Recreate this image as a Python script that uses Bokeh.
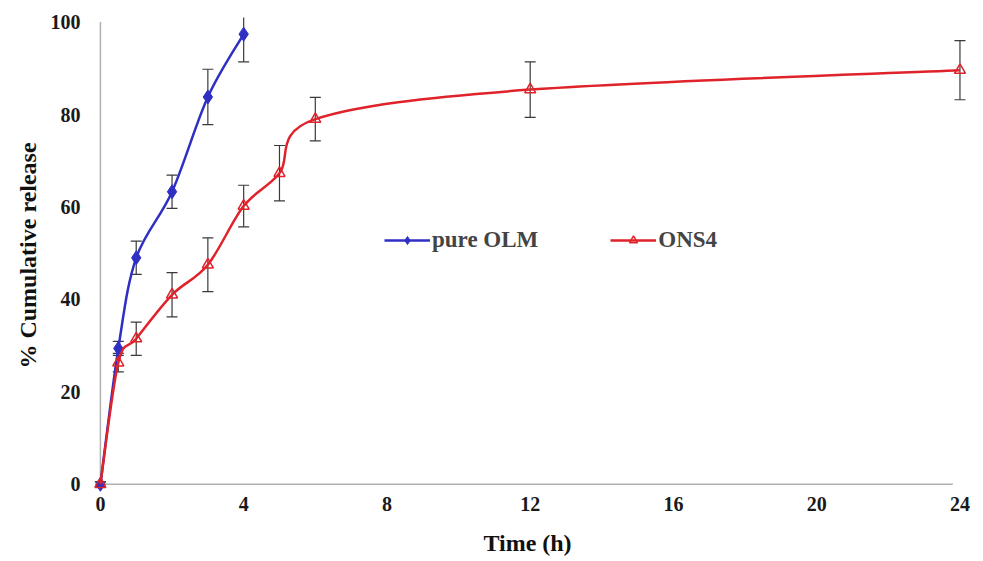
import numpy as np
from bokeh.plotting import figure
from bokeh.models import ColumnDataSource, Whisker, TeeHead, FixedTicker, Legend, LegendItem
from bokeh.embed import file_html
from bokeh.resources import INLINE

# ---- data ----
olm_t = [0, 0.5, 1, 2, 3, 4]
olm_y = [0, 29.4, 49.0, 63.3, 83.8, 97.4]
olm_sd = [0.5, 1.5, 3.6, 3.6, 6.0, 6.0]

ons_t = [0, 0.5, 1, 2, 3, 4, 5, 6, 12, 24]
ons_y = [0, 26.3, 31.5, 41.0, 47.5, 60.2, 67.3, 79.0, 85.4, 89.6]
ons_sd = [0.5, 2.0, 3.6, 4.8, 5.8, 4.5, 6.0, 4.7, 6.0, 6.4]

x_ticks = [0, 4, 8, 12, 16, 20, 24]
y_ticks = [0, 20, 40, 60, 80, 100]

FONT = "Liberation Serif"


def smooth(xs, ys):
    """Excel-like smoothed line: Catmull-Rom segments as cubic Bezier curves."""
    P = np.column_stack([xs, ys]).astype(float)
    n = len(P)
    x0, y0, x1, y1, cx0, cy0, cx1, cy1 = ([] for _ in range(8))
    for i in range(n - 1):
        p0 = P[i - 1] if i > 0 else P[i]
        p1 = P[i]
        p2 = P[i + 1]
        p3 = P[i + 2] if i + 2 < n else P[i + 1]
        c1 = p1 + (p2 - p0) / 6.0
        c2 = p2 - (p3 - p1) / 6.0
        x0.append(p1[0]); y0.append(p1[1]); x1.append(p2[0]); y1.append(p2[1])
        cx0.append(c1[0]); cy0.append(c1[1]); cx1.append(c2[0]); cy1.append(c2[1])
    return dict(x0=x0, y0=y0, x1=x1, y1=y1, cx0=cx0, cy0=cy0, cx1=cx1, cy1=cy1)


p = figure(width=980, height=558, output_backend="svg", toolbar_location=None,
           x_range=(-0.5, 24.35), y_range=(-2, 101),
           min_border_left=82, min_border_right=8, min_border_top=17, min_border_bottom=64)
p.outline_line_color = None
p.grid.visible = False
p.background_fill_color = "white"

# axis lines at 0
p.segment(x0=[0], y0=[0], x1=[23.8], y1=[0], line_color="#b0b0b0", line_width=1.5)
p.segment(x0=[0], y0=[0], x1=[0], y1=[100], line_color="#b0b0b0", line_width=1.5)

BLUE = "#2f2fc4"
RED = "#e0222a"
ERR = "#3a3a3a"

# error bars
for t, y, sd in ((olm_t, olm_y, olm_sd), (ons_t, ons_y, ons_sd)):
    src = ColumnDataSource(dict(x=t, upper=[a + b for a, b in zip(y, sd)],
                                lower=[a - b for a, b in zip(y, sd)]))
    w = Whisker(base="x", upper="upper", lower="lower", source=src,
                line_color=ERR, line_width=1.2,
                upper_head=TeeHead(size=11, line_color=ERR, line_width=1.2),
                lower_head=TeeHead(size=11, line_color=ERR, line_width=1.2))
    p.add_layout(w)

b1 = p.bezier(source=ColumnDataSource(smooth(olm_t, olm_y)), x0="x0", y0="y0", x1="x1", y1="y1",
              cx0="cx0", cy0="cy0", cx1="cx1", cy1="cy1", line_color=BLUE, line_width=2.5)
s1 = p.scatter(olm_t, olm_y, marker="diamond", size=14, fill_color=BLUE, line_color=BLUE)

b2 = p.bezier(source=ColumnDataSource(smooth(ons_t, ons_y)), x0="x0", y0="y0", x1="x1", y1="y1",
              cx0="cx0", cy0="cy0", cx1="cx1", cy1="cy1", line_color=RED, line_width=2.5)
s2 = p.scatter(ons_t, ons_y, marker="triangle", size=11, fill_color=None, line_color=RED, line_width=1.5)

# legend glyph lines (proxy renderers)
lg1 = p.line([np.nan], [np.nan], line_color=BLUE, line_width=2.5)
lg2 = p.line([np.nan], [np.nan], line_color=RED, line_width=2.5)

legend = Legend(items=[LegendItem(label="pure OLM", renderers=[lg1, s1]),
                       LegendItem(label="ONS4", renderers=[lg2, s2])],
                orientation="horizontal", location=(302, 240),
                border_line_color=None, background_fill_alpha=0,
                label_text_font=FONT, label_text_font_style="bold", label_text_font_size="23px",
                glyph_width=46, spacing=72, label_standoff=2, padding=4)
p.add_layout(legend)

for ax in (p.xaxis, p.yaxis):
    ax.axis_line_color = None
    ax.major_tick_line_color = None
    ax.minor_tick_line_color = None
    ax.major_tick_out = 0
    ax.major_label_text_font = FONT
    ax.major_label_text_font_style = "bold"
    ax.major_label_text_font_size = "20px"
    ax.major_label_text_color = "#1a1a1a"
    ax.axis_label_text_font = FONT
    ax.axis_label_text_font_style = "bold"
    ax.axis_label_text_font_size = "24px"
    ax.axis_label_text_color = "#111111"

p.xaxis.ticker = FixedTicker(ticks=x_ticks)
p.yaxis.ticker = FixedTicker(ticks=y_ticks)
p.xaxis.axis_label = "Time (h)"
p.yaxis.axis_label = "% Cumulative release"
p.xaxis.major_label_standoff = 3
p.yaxis.major_label_standoff = 2
p.xaxis.axis_label_standoff = 16
p.yaxis.axis_label_standoff = 7

open("out.html", "w").write(file_html(p, INLINE))
